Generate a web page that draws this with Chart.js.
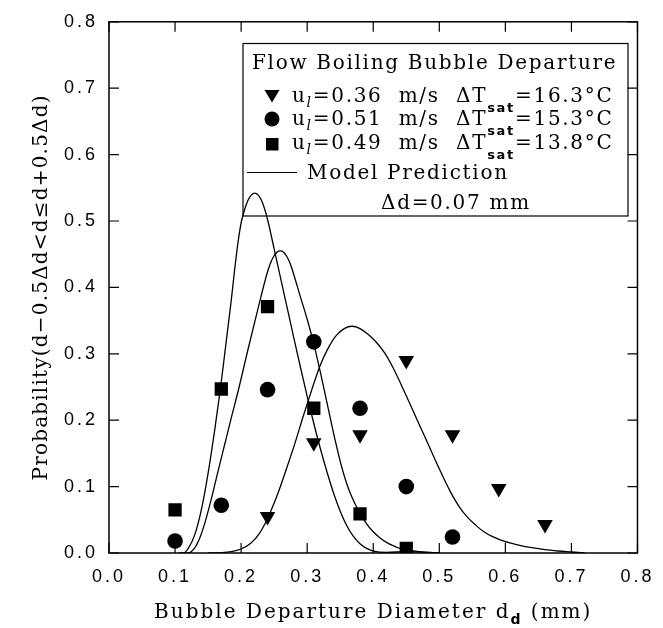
<!DOCTYPE html>
<html>
<head>
<meta charset="utf-8">
<script src="https://cdn.jsdelivr.net/npm/chart.js@4.4.1/dist/chart.umd.min.js"></script>
<style>
  html, body { margin: 0; padding: 0; background: #fff; }
  canvas { display: block; }
</style>
</head>
<body>
<canvas id="chart" width="663" height="628"></canvas>
<script>
const ctx = document.getElementById("chart");

// tick values (both axes)
const xTicks = [0, 0.1, 0.2, 0.3, 0.4, 0.5, 0.6, 0.7, 0.8];
const yTicks = [0, 0.1, 0.2, 0.3, 0.4, 0.5, 0.6, 0.7, 0.8];

// measured points, u_l=0.36 m/s (triangles)
const tri_d = [0.24, 0.31, 0.38, 0.45, 0.52, 0.59, 0.66];
const tri_p = [0.055, 0.166, 0.178, 0.290, 0.178, 0.097, 0.043];
// u_l=0.51 m/s (circles)
const circ_d = [0.10, 0.17, 0.24, 0.31, 0.38, 0.45, 0.52];
const circ_p = [0.018, 0.072, 0.246, 0.318, 0.218, 0.100, 0.024];
// u_l=0.49 m/s (squares)
const sq_d = [0.10, 0.17, 0.24, 0.31, 0.38, 0.45];
const sq_p = [0.065, 0.247, 0.371, 0.218, 0.059, 0.007];

// model prediction curves
const modelA_d = [0.105, 0.113, 0.12, 0.13, 0.14, 0.15, 0.16, 0.169, 0.177, 0.185, 0.19, 0.1956, 0.2006, 0.2056, 0.2106, 0.2156, 0.2206, 0.2256, 0.2306, 0.2356, 0.2406, 0.25, 0.26, 0.27, 0.28, 0.29, 0.30, 0.31, 0.32, 0.33, 0.34, 0.35, 0.36, 0.37, 0.38, 0.39, 0.40, 0.42, 0.45, 0.48, 0.50];
const modelA_p = [0, 0, 0.007, 0.028, 0.066, 0.12, 0.185, 0.25, 0.315, 0.38, 0.425, 0.47, 0.50, 0.518, 0.5315, 0.5394, 0.542, 0.5394, 0.5315, 0.518, 0.50, 0.458, 0.413, 0.368, 0.323, 0.279, 0.236, 0.195, 0.157, 0.122, 0.09, 0.063, 0.041, 0.025, 0.014, 0.007, 0.003, 0.001, 0.002, 0.001, 0];
const modelB_d = [0.112, 0.12, 0.13, 0.138, 0.145, 0.155, 0.165, 0.175, 0.185, 0.197, 0.21, 0.2236, 0.2392, 0.2442, 0.2492, 0.2542, 0.2592, 0.2642, 0.2692, 0.2742, 0.2792, 0.29, 0.30, 0.31, 0.32, 0.33, 0.34, 0.35, 0.36, 0.37, 0.38, 0.39, 0.40, 0.41, 0.42, 0.43, 0.44, 0.45, 0.47, 0.50];
const modelB_p = [0, 0, 0.008, 0.024, 0.045, 0.082, 0.123, 0.163, 0.203, 0.25, 0.305, 0.36, 0.421, 0.436, 0.4465, 0.453, 0.455, 0.453, 0.4465, 0.436, 0.421, 0.385, 0.352, 0.315, 0.272, 0.226, 0.18, 0.138, 0.104, 0.079, 0.06, 0.044, 0.032, 0.023, 0.016, 0.011, 0.007, 0.005, 0.002, 0];
const modelC_d = [0.15, 0.17, 0.185, 0.2, 0.215, 0.228, 0.24, 0.255, 0.269, 0.282, 0.294, 0.307, 0.319, 0.331, 0.3435, 0.356, 0.368, 0.38, 0.3925, 0.405, 0.4175, 0.43, 0.4425, 0.455, 0.4675, 0.48, 0.4925, 0.505, 0.5175, 0.53, 0.5425, 0.555, 0.5675, 0.58, 0.60, 0.62, 0.64, 0.66, 0.68, 0.70, 0.72];
const modelC_p = [0, 0.0005, 0.002, 0.006, 0.015, 0.03, 0.052, 0.088, 0.128, 0.167, 0.206, 0.246, 0.281, 0.307, 0.327, 0.338, 0.3415, 0.338, 0.329, 0.317, 0.301, 0.279, 0.253, 0.226, 0.198, 0.171, 0.143, 0.116, 0.091, 0.07, 0.054, 0.042, 0.032, 0.025, 0.017, 0.012, 0.008, 0.005, 0.003, 0.0015, 0];

const serif = "'DejaVu Serif', serif";
const sans = "'Liberation Sans', Arial, sans-serif";

function pts(xs, ys) {
  return xs.map((x, i) => ({ x: x, y: ys[i] }));
}

function curve(xs, ys) {
  return {
    data: pts(xs, ys),
    showLine: true,
    borderColor: "#000",
    borderWidth: 1.3,
    pointRadius: 0,
    cubicInterpolationMode: "monotone",
    fill: false,
  };
}

function marks(xs, ys, style, r, rot) {
  return {
    data: pts(xs, ys),
    showLine: false,
    pointStyle: style,
    pointRadius: r,
    pointRotation: rot,
    backgroundColor: "#000",
    borderColor: "#000",
    borderWidth: 0,
  };
}

// draw runs of text with sub-scripts, left to right
function runs(c, x, y, parts) {
  parts.forEach((p) => {
    c.font = p.font;
    c.fillText(p.t, x, y + (p.dy || 0));
    x += c.measureText(p.t).width;
  });
}

const tickSpacing = {
  id: "tickSpacing",
  beforeDraw(chart) { chart.ctx.letterSpacing = "3px"; },
  beforeDatasetsDraw(chart) { chart.ctx.letterSpacing = "0px"; },
};

const frame = {
  id: "frame",
  afterDraw(chart) {
    const c = chart.ctx;
    const a = chart.chartArea;
    const sx = chart.scales.x, sy = chart.scales.y;
    c.save();
    c.strokeStyle = "#000";
    c.lineWidth = 1.5;
    c.strokeRect(a.left, a.top, a.right - a.left, a.bottom - a.top);
    c.lineWidth = 1.2;
    c.beginPath();
    xTicks.forEach((v) => {
      const px = sx.getPixelForValue(v);
      c.moveTo(px, a.bottom); c.lineTo(px, a.bottom - 10);
      c.moveTo(px, a.top); c.lineTo(px, a.top + 10);
    });
    yTicks.forEach((v) => {
      const py = sy.getPixelForValue(v);
      c.moveTo(a.left, py); c.lineTo(a.left + 10, py);
      c.moveTo(a.right, py); c.lineTo(a.right - 10, py);
    });
    c.stroke();

    // axis titles
    c.fillStyle = "#000";
    c.textBaseline = "alphabetic";
    c.letterSpacing = "2px";
    const xt = [
      { t: "Bubble Departure Diameter d", font: "20px " + serif },
      { t: "d", font: "bold 14px 'DejaVu Sans'", dy: 6 },
      { t: " (mm)", font: "20px " + serif },
    ];
    let w = 0;
    xt.forEach((p) => { c.font = p.font; w += c.measureText(p.t).width; });
    c.textAlign = "left";
    runs(c, (a.left + a.right) / 2 - w / 2, 618, xt);

    c.letterSpacing = "1.2px";
    c.save();
    c.translate(47, (a.top + a.bottom) / 2);
    c.rotate(-Math.PI / 2);
    c.textAlign = "center";
    c.font = "20px " + serif;
    c.fillText("Probability(d\u22120.5\u0394d<d\u2264d+0.5\u0394d)", 0, 0);
    c.restore();

    // legend box
    c.letterSpacing = "1.7px";
    c.lineWidth = 1.2;
    c.strokeRect(243, 43.5, 385, 172.5);
    c.textAlign = "left";
    c.font = "20px " + serif;
    c.fillText("Flow Boiling Bubble Departure", 252, 68.5);

    const rows = [
      { y: 102, u: "=0.36  m/s", t: "=16.3\u00b0C", style: "tri" },
      { y: 125, u: "=0.51  m/s", t: "=15.3\u00b0C", style: "circ" },
      { y: 149, u: "=0.49  m/s", t: "=13.8\u00b0C", style: "sq" },
    ];
    rows.forEach((r) => {
      const my = r.y - 7;
      c.beginPath();
      if (r.style === "tri") {
        c.moveTo(264.5, my - 5); c.lineTo(279.5, my - 5); c.lineTo(272, my + 7.5);
      } else if (r.style === "circ") {
        c.arc(272, my + 1, 7.5, 0, Math.PI * 2);
      } else {
        c.rect(266, my - 4, 12.5, 12.5);
      }
      c.closePath();
      c.fill();
      runs(c, 292, r.y, [
        { t: "u", font: "20px " + serif },
        { t: "l", font: "italic 14px " + serif, dy: 5 },
        { t: r.u, font: "20px " + serif },
      ]);
      runs(c, 456, r.y, [
        { t: "\u0394T", font: "20px " + serif },
        { t: "sat", font: "bold 13px 'DejaVu Sans'", dy: 10 },
        { t: r.t, font: "20px " + serif },
      ]);
    });
    c.beginPath();
    c.lineWidth = 1;
    c.moveTo(247, 172.5); c.lineTo(297, 172.5);
    c.stroke();
    c.font = "20px " + serif;
    c.fillText("Model Prediction", 307, 179);
    c.fillText("\u0394d=0.07 mm", 381, 209);
    c.restore();
  },
};

function fixTicks(vals) {
  return (s) => { s.ticks = vals.map((v) => ({ value: v })); };
}

new Chart(ctx, {
  type: "scatter",
  data: {
    datasets: [
      curve(modelA_d, modelA_p),
      curve(modelB_d, modelB_p),
      curve(modelC_d, modelC_p),
      marks(tri_d, tri_p, "triangle", 9, 180),
      marks(circ_d, circ_p, "circle", 7.8, 0),
      marks(sq_d, sq_p, "rect", 9.4, 0),
    ],
  },
  options: {
    responsive: false,
    animation: false,
    layout: { padding: { top: 17, right: 16, left: 0, bottom: 0 } },
    plugins: {
      legend: { display: false },
      tooltip: { enabled: false },
    },
    scales: {
      x: {
        type: "linear",
        min: 0,
        max: 0.8,
        afterBuildTicks: fixTicks(xTicks),
        afterFit: (s) => { s.height = 75; },
        grid: { display: false, drawTicks: false },
        border: { display: false },
        ticks: {
          color: "#000",
          padding: 13,
          font: { family: sans, size: 18 },
          callback: (v) => v.toFixed(1),
        },
      },
      y: {
        type: "linear",
        min: 0,
        max: 0.8,
        afterBuildTicks: fixTicks(yTicks),
        afterFit: (s) => { s.width = 109; },
        grid: { display: false, drawTicks: false },
        border: { display: false },
        ticks: {
          color: "#000",
          padding: 11,
          font: { family: sans, size: 18 },
          callback: (v) => v.toFixed(1),
        },
      },
    },
  },
  plugins: [tickSpacing, frame],
});
</script>
</body>
</html>
